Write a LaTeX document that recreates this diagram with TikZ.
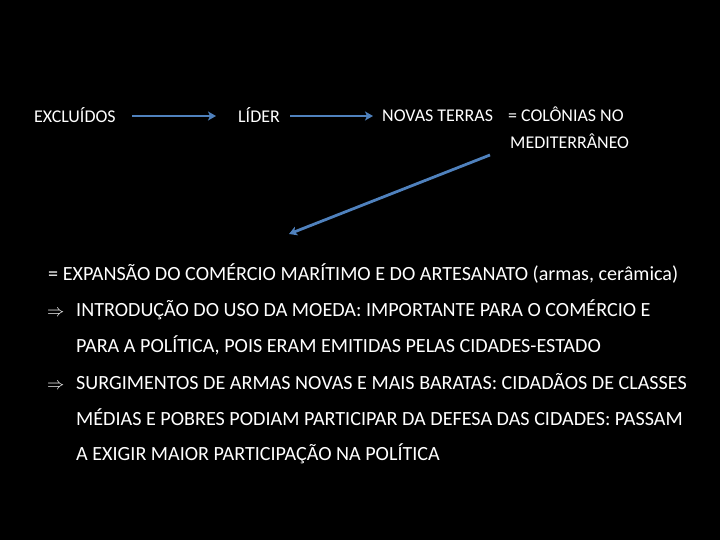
\documentclass[tikz,border=0pt]{standalone}
\usepackage{fontspec}
\setmainfont{Carlito}
\usepackage{xcolor}
\usetikzlibrary{arrows.meta,positioning,calc}
\definecolor{arrowblue}{HTML}{4F81BD}

\begin{document}
\begin{tikzpicture}[x=1bp,y=-1bp,
  font=\fontsize{18}{21}\selectfont,
  txt/.style={text=white,anchor=base west,inner sep=0pt},
  body/.style={text=white,anchor=base west,inner sep=0pt,font=\fontsize{20.2}{24}\selectfont},
  flow/.style={-{Stealth[length=8pt,width=9pt,inset=2pt]},line width=2.8pt,color=arrowblue}]
  \fill[black] (0,0) rectangle (720,540);
  \useasboundingbox (0,0) rectangle (720,540);
  % top row
  \node[txt] (excl) at (34,123) {EXCLUÍDOS};
  \node[txt] (lider) at (238,123) {LÍDER};
  \node[txt] (novas) at (382,122) {NOVAS TERRAS};
  \node[txt] (col) at (508,122) {= COLÔNIAS NO};
  \node[txt] (med) at (510,149) {MEDITERRÂNEO};
  \coordinate (a1s) at (132,116); \coordinate (a1e) at (216,116);
  \coordinate (a2s) at (290,116); \coordinate (a2e) at (373,116);
  \draw[flow] (a1s) -- (a1e);
  \draw[flow] (a2s) -- (a2e);
  % consequences
  \node[body] (l1) at (48,281) {= EXPANSÃO DO COMÉRCIO MARÍTIMO E DO ARTESANATO (armas, cerâmica)};
  \node[body,font=\fontsize{19}{22}\selectfont] (i1) at (47,316) {$\Rightarrow$};
  \node[body] (l2) at (76,316) {INTRODUÇÃO DO USO DA MOEDA: IMPORTANTE PARA O COMÉRCIO E};
  \node[body] (l3) at (76,352) {PARA A POLÍTICA, POIS ERAM EMITIDAS PELAS CIDADES-ESTADO};
  \node[body,font=\fontsize{19}{22}\selectfont] (i2) at (47,389) {$\Rightarrow$};
  \node[body] (l4) at (76,389) {SURGIMENTOS DE ARMAS NOVAS E MAIS BARATAS: CIDADÃOS DE CLASSES};
  \node[body] (l5) at (76,425) {MÉDIAS E POBRES PODIAM PARTICIPAR DA DEFESA DAS CIDADES: PASSAM};
  \node[body] (l6) at (76,460) {A EXIGIR MAIOR PARTICIPAÇÃO NA POLÍTICA};
  \coordinate (a3s) at (490,155); \coordinate (a3e) at (289,234);
  \draw[flow] (a3s) -- (a3e);
\end{tikzpicture}
\end{document}
